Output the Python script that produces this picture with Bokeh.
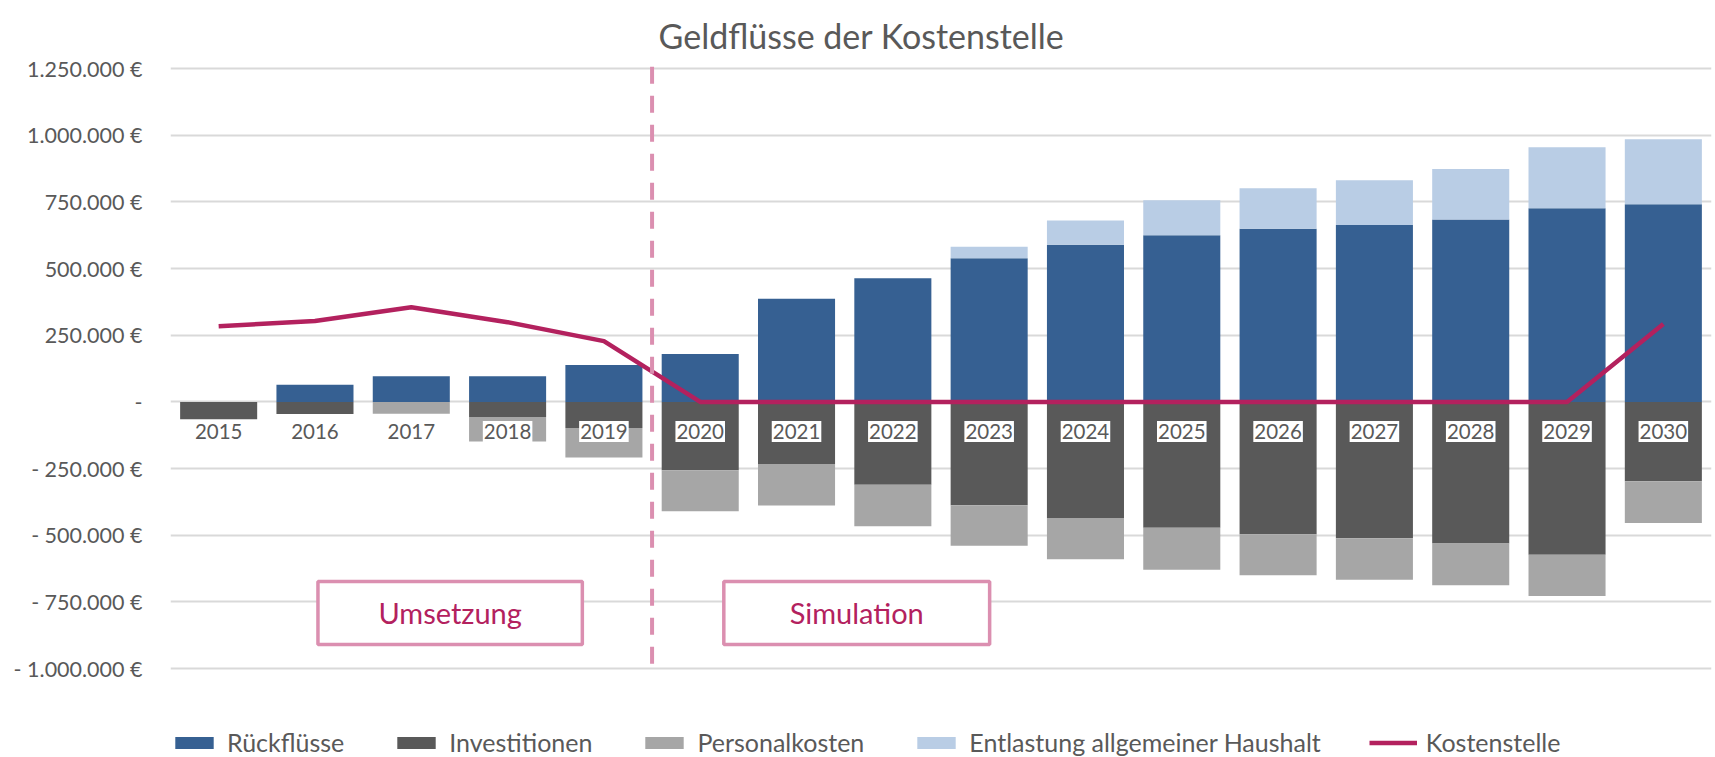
from bokeh.plotting import figure
from bokeh.models import (FactorRange, Range1d, FixedTicker, CustomJSTickFormatter,
                          Legend, LegendItem, BoxAnnotation, Label, ColumnDataSource)
from bokeh.embed import file_html
from bokeh.resources import INLINE
from bokeh.core.properties import value

# ---------------- data ----------------
years = [str(y) for y in range(2015, 2031)]
rueckfluesse = [0, 64_000, 96_000, 96_000, 138_000, 180_000, 387_000, 464_000,
                539_000, 589_000, 625_000, 649_000, 663_000, 684_000, 726_000, 741_000]
entlastung = [0, 0, 0, 0, 0, 0, 0, 0,
              43_000, 91_000, 131_000, 152_000, 168_000, 189_000, 229_000, 244_000]
investitionen = [-65_000, -45_000, 0, -57_000, -98_000, -256_000, -233_000, -311_000,
                 -387_000, -435_000, -472_000, -496_000, -511_000, -531_000, -573_000, -297_000]
personalkosten = [0, 0, -44_000, -91_000, -110_000, -154_000, -155_000, -155_000,
                  -152_000, -155_000, -157_000, -154_000, -156_000, -156_000, -155_000, -157_000]
kostenstelle = [284_000, 303_000, 355_000, 299_000, 228_000, 0, 0, 0,
                0, 0, 0, 0, 0, 0, 0, 292_000]
y_ticks = [-1_000_000, -750_000, -500_000, -250_000, 0, 250_000, 500_000,
           750_000, 1_000_000, 1_250_000]
series_names = ["Rückflüsse", "Investitionen", "Personalkosten",
                "Entlastung allgemeiner Haushalt", "Kostenstelle"]
title_text = "Geldflüsse der Kostenstelle"
phases = ["Umsetzung", "Simulation"]

# ---------------- style ----------------
BLUE = "#366092"
DGREY = "#595959"
LGREY = "#A6A6A6"
LBLUE = "#B9CDE5"
CRIMSON = "#B3215E"
PINK = "#DB8FB0"
TEXT = "#595959"
FONT = "Lato"

src = ColumnDataSource(dict(years=years, rueck=rueckfluesse, entl=entlastung,
                            inv=investitionen, pers=personalkosten, kst=kostenstelle))

p = figure(x_range=FactorRange(*years, range_padding=0),
           y_range=Range1d(-1_333_200, 1_505_000),
           width=1715, height=757,
           min_border_left=170, min_border_right=4,
           min_border_top=0, min_border_bottom=0,
           x_axis_location=None,
           output_backend="svg", toolbar_location=None, title=None)
p.outline_line_color = None
p.background_fill_color = "white"
p.border_fill_color = "white"

# y axis
p.yaxis.ticker = FixedTicker(ticks=y_ticks)
p.yaxis.formatter = CustomJSTickFormatter(code="""
    if (tick == 0) return "-";
    const a = Math.abs(tick).toFixed(0).replace(/\\B(?=(\\d{3})+(?!\\d))/g, ".");
    return (tick < 0 ? "- " : "") + a + " \u20ac";
""")
p.yaxis.axis_line_color = None
p.yaxis.major_tick_line_color = None
p.yaxis.minor_tick_line_color = None
p.yaxis.major_label_text_font = FONT
p.yaxis.major_label_text_font_size = "21.5px"
p.yaxis.major_label_text_color = TEXT
p.yaxis.major_label_standoff = 22

p.xgrid.visible = False
p.ygrid.ticker = FixedTicker(ticks=y_ticks)
p.ygrid.grid_line_color = "#D9D9D9"
p.ygrid.grid_line_width = 2

# bars
pos = p.vbar_stack(["rueck", "entl"], x="years", width=0.8, fill_color=[BLUE, LBLUE],
                   line_color=None, source=src)
neg = p.vbar_stack(["inv", "pers"], x="years", width=0.8, fill_color=[DGREY, LGREY],
                   line_color=None, source=src)

# line
ln = p.line(x="years", y="kst", line_color=CRIMSON, line_width=4.5, source=src)

# category labels inside plot
p.text(x="years", y=-111_000, text="years", source=src,
       text_font=value(FONT), text_font_size="20.5px", text_color=TEXT,
       text_align="center", text_baseline="middle",
       background_fill_color="white",
       padding=dict(left=1, right=1, top=3, bottom=3))

# divider between realisation and simulation
p.segment(x0=[5.0], y0=[1_257_000], x1=[5.0], y1=[-988_000],
          line_color=PINK, line_width=4, line_dash="17 12")

# phase boxes
boxes = [(1.531, 4.276), (5.745, 8.505)]
for (l, r), txt in zip(boxes, phases):
    p.add_layout(BoxAnnotation(left=l, right=r, top=-673_000, bottom=-910_000,
                               fill_color="white", fill_alpha=1.0,
                               line_color=PINK, line_width=3.5, line_alpha=1.0))
    p.add_layout(Label(x=(l + r) / 2, y=-791_000, text=txt,
                       text_align="center", text_baseline="middle",
                       text_font=FONT, text_font_size="29px", text_color=CRIMSON))

# title (frame spans whole canvas height, so screen units are canvas-based)
p.add_layout(Label(x=691, y=757 - 35, x_units="screen", y_units="screen",
                   text=title_text, text_align="center", text_baseline="alphabetic",
                   text_font=FONT, text_font_size="34px", text_color=TEXT))

# legend
items = [LegendItem(label=series_names[0], renderers=[pos[0]]),
         LegendItem(label=series_names[1], renderers=[neg[0]]),
         LegendItem(label=series_names[2], renderers=[neg[1]]),
         LegendItem(label=series_names[3], renderers=[pos[1]]),
         LegendItem(label=series_names[4], renderers=[ln])]
legend = Legend(items=items, orientation="horizontal", location=(0, 0),
                glyph_width=48, glyph_height=15, label_standoff=9, spacing=48,
                padding=0, margin=0, border_line_color=None, background_fill_alpha=0,
                label_text_font=FONT, label_text_font_size="25px",
                label_text_color=TEXT)
p.add_layout(legend)

open("out.html", "w").write(file_html(p, INLINE))
